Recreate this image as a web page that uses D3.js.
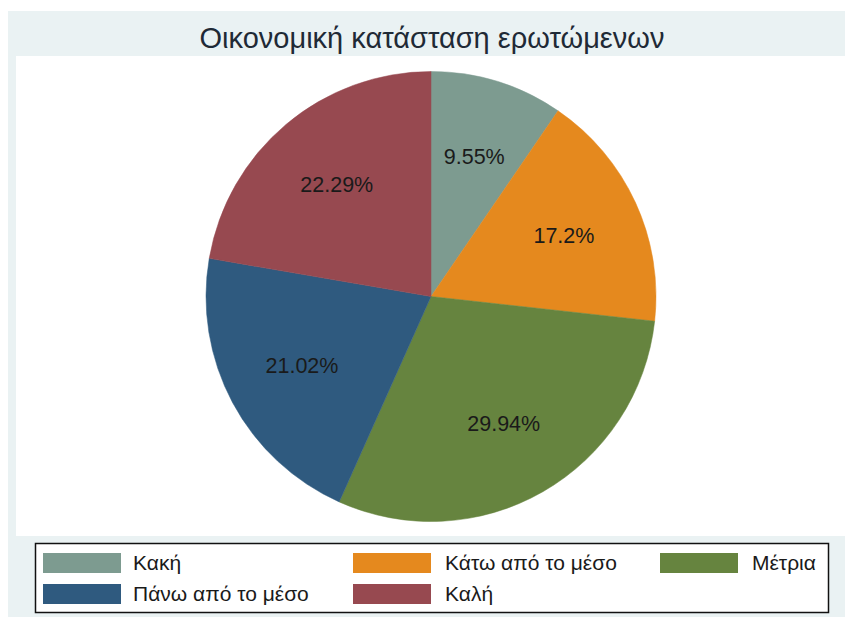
<!DOCTYPE html>
<html>
<head>
<meta charset="utf-8">
<script src="https://cdn.jsdelivr.net/npm/d3@7"></script>
<style>
  html, body { margin: 0; padding: 0; background: #ffffff; }
  svg { display: block; }
  text { font-family: "Liberation Sans", Arial, sans-serif; }
</style>
</head>
<body>
<svg id="chart" width="845" height="619"></svg>
<script>
const title = "Οικονομική κατάσταση ερωτώμενων";
const categories = ["Κακή", "Κάτω από το μέσο", "Μέτρια", "Πάνω από το μέσο", "Καλή"];
const values = [9.55, 17.2, 29.94, 21.02, 22.29];
const labels = ["9.55%", "17.2%", "29.94%", "21.02%", "22.29%"];
const colors = ["#7d9b90", "#e5891e", "#66843f", "#2f5a7f", "#974950"];

const W = 845, H = 619;
const svg = d3.select("#chart");

// outer background
svg.append("rect").attr("x", 8).attr("y", 11).attr("width", W - 8).attr("height", H - 11 - 2)
  .attr("fill", "#eaf2f3");
// inner plot region
svg.append("rect").attr("x", 16).attr("y", 56).attr("width", W - 16).attr("height", 536 - 56)
  .attr("fill", "#ffffff");

// title
svg.append("text").attr("x", 432).attr("y", 48).attr("text-anchor", "middle")
  .attr("font-size", 29).attr("fill", "#1f2a36").text(title);

// pie
const cx = 431, cy = 296.5, R = 225;
const pie = d3.pie().sort(null).value(d => d.v).startAngle(0).endAngle(2 * Math.PI);
const data = categories.map((c, i) => ({ c, v: values[i], label: labels[i], color: colors[i] }));
const arcs = pie(data);
const arc = d3.arc().innerRadius(0).outerRadius(R);
const labelArc = d3.arc().innerRadius(R * 0.65).outerRadius(R * 0.65);

const g = svg.append("g").attr("transform", `translate(${cx},${cy})`);
g.selectAll("path").data(arcs).enter().append("path")
  .attr("d", arc).attr("fill", d => d.data.color)
  .attr("stroke", d => d.data.color).attr("stroke-width", 0.5);

g.selectAll("text.lbl").data(arcs).enter().append("text")
  .attr("class", "lbl")
  .attr("transform", d => `translate(${labelArc.centroid(d)})`)
  .attr("text-anchor", "middle").attr("dy", "0.35em")
  .attr("font-size", 21.5).attr("fill", "#1a1a1a")
  .text(d => d.data.label);

// legend
const lg = svg.append("g");
lg.append("rect").attr("x", 35.5).attr("y", 543.5).attr("width", 793).attr("height", 69)
  .attr("fill", "#ffffff").attr("stroke", "#111111").attr("stroke-width", 1.5);

const colX = [43, 353, 660];
const textX = [133, 445, 752];
const rowY = [553, 584];
const order = [[0, 0], [0, 1], [0, 2], [1, 0], [1, 1]]; // [row, col]
data.forEach((d, i) => {
  const [r, c] = order[i];
  lg.append("rect").attr("x", colX[c]).attr("y", rowY[r]).attr("width", 78).attr("height", 20)
    .attr("fill", d.color);
  lg.append("text").attr("x", textX[c]).attr("y", rowY[r] + 10).attr("dy", "0.35em")
    .attr("font-size", 21).attr("fill", "#1a1a1a").text(d.c);
});
</script>
</body>
</html>
